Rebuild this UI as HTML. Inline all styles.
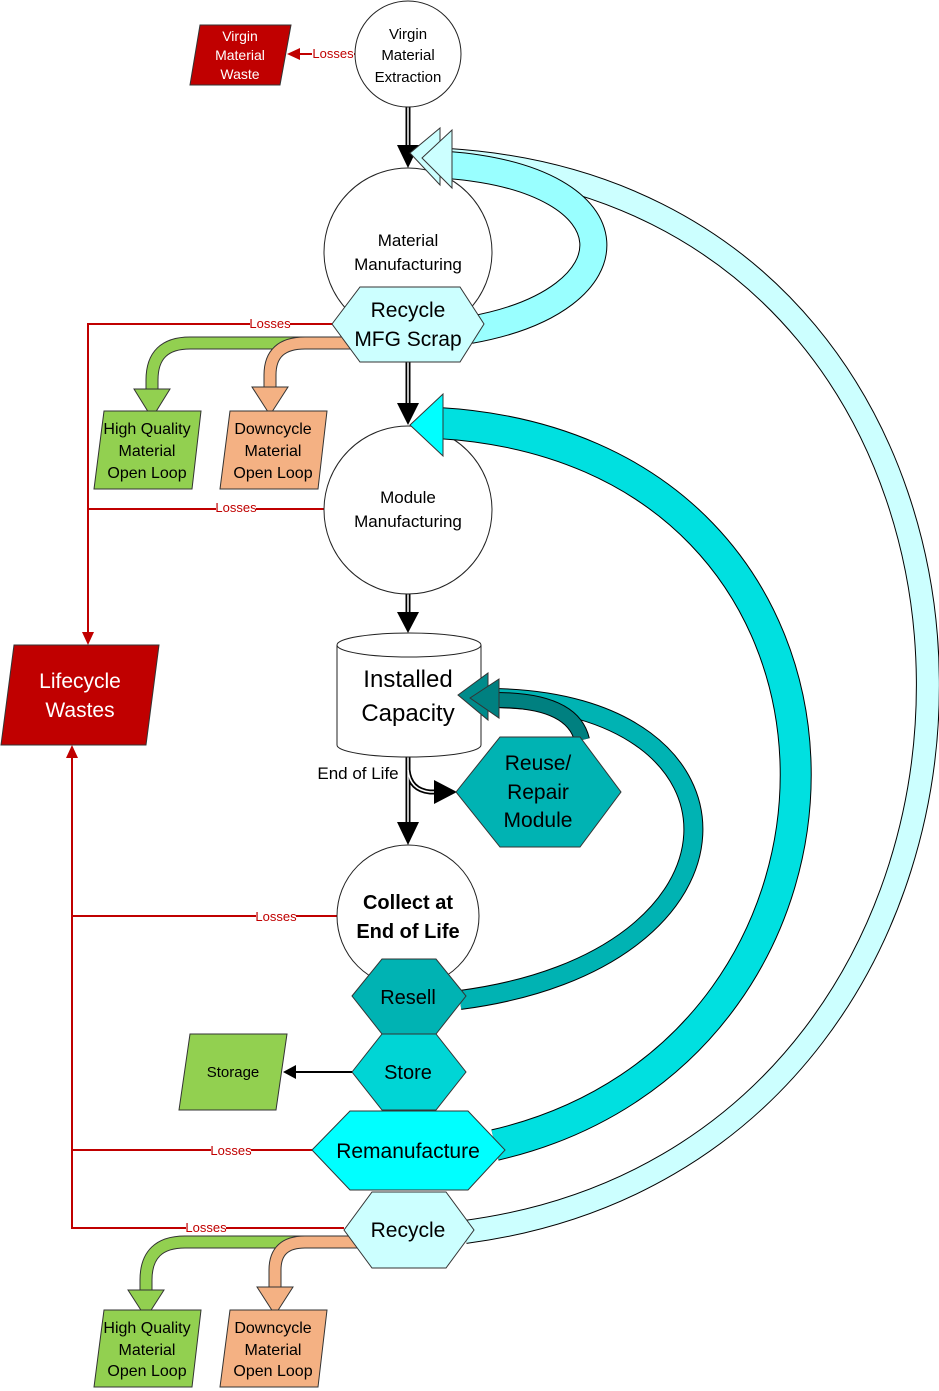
<!DOCTYPE html>
<html><head><meta charset="utf-8"><style>
html,body{margin:0;padding:0;background:#fff}
svg{display:block}
text{font-family:"Liberation Sans",sans-serif;text-anchor:middle}
</style></head><body>
<svg width="939" height="1391" viewBox="0 0 939 1391" xmlns="http://www.w3.org/2000/svg">
<g stroke="#C00000" stroke-width="2" fill="none">
<path d="M332 324 H88 V640"/>
<path d="M325 509 H88"/>
<path d="M338 916 H72"/>
<path d="M312 1150 H72"/>
<path d="M344 1228 H72 V752"/>
<path d="M355 54 H292"/>
</g>
<polygon points="88,645 82,632 94,632" fill="#C00000"/>
<polygon points="72,745 66,758 78,758" fill="#C00000"/>
<polygon points="287,54 300,48 300,60" fill="#C00000"/>
<g font-size="13" fill="#C00000">
<rect x="250" y="318" width="40" height="12" fill="#fff"/><text x="270" y="328">Losses</text>
<rect x="216" y="502" width="40" height="12" fill="#fff"/><text x="236" y="512">Losses</text>
<rect x="256" y="911" width="40" height="12" fill="#fff"/><text x="276" y="921">Losses</text>
<rect x="211" y="1145" width="40" height="12" fill="#fff"/><text x="231" y="1155">Losses</text>
<rect x="186" y="1222" width="40" height="12" fill="#fff"/><text x="206" y="1232">Losses</text>
<rect x="312" y="47" width="42" height="12" fill="#fff"/><text x="333" y="58">Losses</text>
</g>

<g fill="none" stroke="#000" stroke-width="5"><path d="M408 107 V150"/><path d="M408 362 V408"/><path d="M408 593 V615"/><path d="M408 757 V825"/><path d="M408 770 Q410 790 430 792 H440"/></g>
<g fill="none" stroke="#fff" stroke-width="1.5"><path d="M408 107 V150"/><path d="M408 362 V408"/><path d="M408 593 V615"/><path d="M408 757 V825"/><path d="M408 770 Q410 790 430 792 H440"/></g>
<g fill="#000"><polygon points="397,145 419,145 408,168"/><polygon points="397,403 419,403 408,425"/><polygon points="397,612 419,612 408,633"/><polygon points="397,822 419,822 408,845"/><polygon points="434,780 434,804 457,792"/></g>

<g fill="#fff" stroke="#222" stroke-width="1">
<circle cx="408" cy="54" r="53"/>
<circle cx="408" cy="252" r="84"/>
<circle cx="408" cy="510" r="84"/>
<circle cx="408" cy="916" r="71"/>
</g>
<path d="M337 645 V745 A72 12 0 0 0 481 745 V645" fill="#fff" stroke="#222"/>
<ellipse cx="409" cy="645" rx="72" ry="12" fill="#fff" stroke="#222"/>

<path d="M465 1232 C1085 1150,1085 200,448 160" fill="none" stroke="#000" stroke-width="24"/>
<path d="M465 1232 C1085 1150,1085 200,448 160" fill="none" stroke="#CCFFFF" stroke-width="22"/>
<path d="M470 330 C638 300,638 180,448 165" fill="none" stroke="#000" stroke-width="28"/>
<path d="M470 330 C638 300,638 180,448 165" fill="none" stroke="#99FFFF" stroke-width="26"/>
<polygon points="410,153 440,128 440,185" fill="#CCFFFF" stroke="#333"/>
<polygon points="422,158 452,130 452,188" fill="#CCFFFF" stroke="#333"/>
<path d="M495 1145 C905 1050,905 450,438 423" fill="none" stroke="#000" stroke-width="32"/>
<path d="M495 1145 C905 1050,905 450,438 423" fill="none" stroke="#00E0E0" stroke-width="30"/>
<polygon points="410,425 443,394 443,456" fill="#00FFFF" stroke="#333"/>
<path d="M460 1000 C766 960,766 700,490 698" fill="none" stroke="#000" stroke-width="20"/>
<path d="M460 1000 C766 960,766 700,490 698" fill="none" stroke="#00B3B3" stroke-width="18"/>
<path d="M582 740 C575 710,540 700,495 700" fill="none" stroke="#000" stroke-width="16"/>
<path d="M582 740 C575 710,540 700,495 700" fill="none" stroke="#008080" stroke-width="14"/>
<polygon points="458,695 488,673 488,720" fill="#008B8B" stroke="#333"/>
<polygon points="470,698 499,679 499,718" fill="#008080" stroke="#333"/>

<path d="M360 343 H190 Q152 343 152 380 V392" fill="none" stroke="#333" stroke-width="13"/>
<path d="M360 343 H190 Q152 343 152 380 V392" fill="none" stroke="#92D050" stroke-width="11"/>
<polygon points="134,389 170,389 152,418" fill="#92D050" stroke="#333"/>
<path d="M362 343 H305 Q270 343 270 375 V390" fill="none" stroke="#333" stroke-width="13"/>
<path d="M362 343 H305 Q270 343 270 375 V390" fill="none" stroke="#F4B183" stroke-width="11"/>
<polygon points="252,387 288,387 270,415" fill="#F4B183" stroke="#333"/>
<path d="M362 1242 H185 Q146 1242 146 1280 V1292" fill="none" stroke="#333" stroke-width="13"/>
<path d="M362 1242 H185 Q146 1242 146 1280 V1292" fill="none" stroke="#92D050" stroke-width="11"/>
<polygon points="128,1290 164,1290 146,1318" fill="#92D050" stroke="#333"/>
<path d="M364 1242 H305 Q275 1242 275 1270 V1290" fill="none" stroke="#333" stroke-width="13"/>
<path d="M364 1242 H305 Q275 1242 275 1270 V1290" fill="none" stroke="#F4B183" stroke-width="11"/>
<polygon points="257,1287 293,1287 275,1315" fill="#F4B183" stroke="#333"/>

<g stroke="#333" stroke-width="1">
<polygon points="332,324 360,287 460,287 484,324 460,362 360,362" fill="#CCFFFF"/>
<polygon points="456,792 500,737 580,737 621,792 580,847 500,847" fill="#00B3B3"/>
<polygon points="352,996 382,959 436,959 466,996 436,1034 382,1034" fill="#00B3B3"/>
<polygon points="352,1072 382,1034 436,1034 466,1072 436,1110 382,1110" fill="#00D5D5"/>
<polygon points="312,1150 350,1111 468,1111 505,1150 468,1190 350,1190" fill="#00FFFF"/>
<polygon points="344,1230 372,1192 446,1192 474,1230 446,1268 372,1268" fill="#CCFFFF"/>
</g>
<g stroke="#333" stroke-width="1">
<polygon points="200,25 291,25 280,85 190,85" fill="#C00000"/>
<polygon points="14,645 159,645 146,745 1,745" fill="#C00000"/>
<polygon points="104,411 201,411 192,489 94,489" fill="#92D050"/>
<polygon points="230,411 327,411 318,489 220,489" fill="#F4B183"/>
<polygon points="190,1034 287,1034 276,1110 179,1110" fill="#92D050"/>
<polygon points="104,1310 201,1310 192,1387 94,1387" fill="#92D050"/>
<polygon points="230,1310 327,1310 318,1387 220,1387" fill="#F4B183"/>
</g>

<g font-size="14" fill="#fff"><text x="240" y="41">Virgin</text><text x="240" y="60">Material</text><text x="240" y="79">Waste</text></g>
<g font-size="15" fill="#000"><text x="408" y="39">Virgin</text><text x="408" y="60">Material</text><text x="408" y="82">Extraction</text></g>
<g font-size="17" fill="#000"><text x="408" y="246">Material</text><text x="408" y="270">Manufacturing</text>
<text x="408" y="503">Module</text><text x="408" y="527">Manufacturing</text></g>
<g font-size="21" fill="#000"><text x="408" y="317">Recycle</text><text x="408" y="346">MFG Scrap</text></g>
<g font-size="16" fill="#000">
<text x="147" y="434">High Quality</text><text x="147" y="456">Material</text><text x="147" y="478">Open Loop</text>
<text x="273" y="434">Downcycle</text><text x="273" y="456">Material</text><text x="273" y="478">Open Loop</text>
<text x="147" y="1333">High Quality</text><text x="147" y="1355">Material</text><text x="147" y="1376">Open Loop</text>
<text x="273" y="1333">Downcycle</text><text x="273" y="1355">Material</text><text x="273" y="1376">Open Loop</text>
<text x="358" y="779" font-size="17">End of Life</text>
</g>
<g font-size="21" fill="#fff"><text x="80" y="688">Lifecycle</text><text x="80" y="717">Wastes</text></g>
<g font-size="24" fill="#000"><text x="408" y="687">Installed</text><text x="408" y="721">Capacity</text></g>
<g font-size="21" fill="#000"><text x="538" y="770">Reuse/</text><text x="538" y="799">Repair</text><text x="538" y="827">Module</text></g>
<g font-size="20" font-weight="bold" fill="#000"><text x="408" y="909">Collect at</text><text x="408" y="938">End of Life</text></g>
<g font-size="20" fill="#000"><text x="408" y="1004">Resell</text><text x="408" y="1079">Store</text>
<text x="408" y="1158" font-size="21">Remanufacture</text><text x="408" y="1237" font-size="21">Recycle</text></g>
<text x="233" y="1077" font-size="15">Storage</text>
<path d="M352 1072 H292" stroke="#000" stroke-width="2"/>
<polygon points="283,1072 296,1065 296,1079" fill="#000"/>
</svg>
</body></html>
